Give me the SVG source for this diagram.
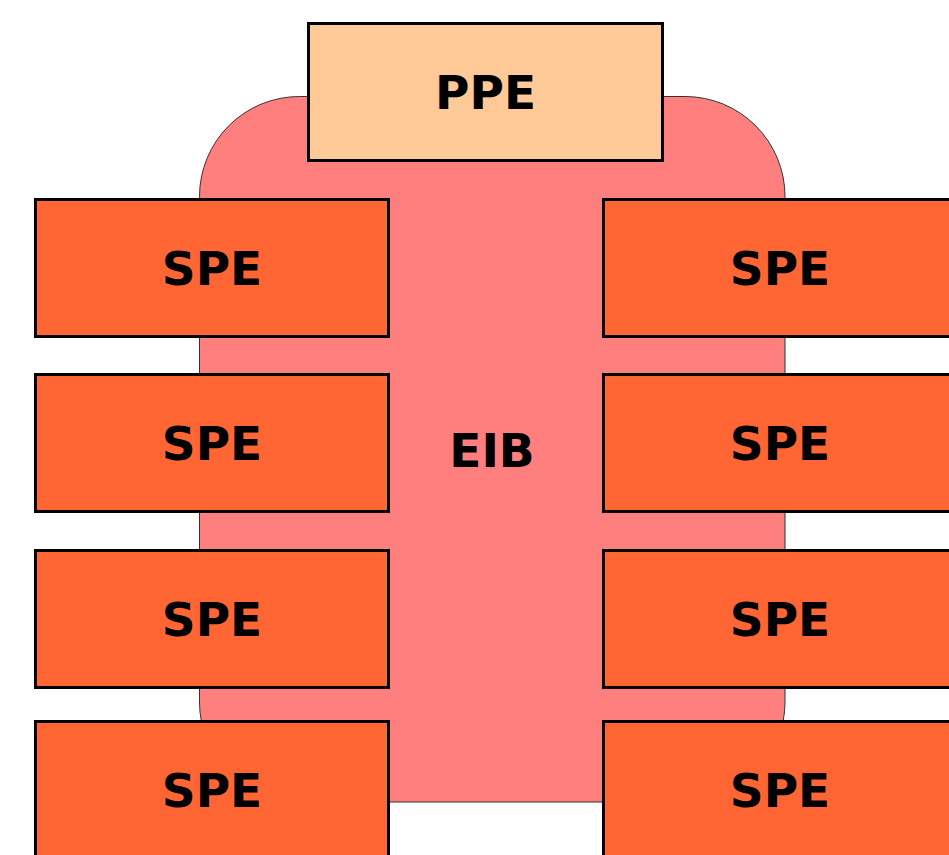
<svg xmlns="http://www.w3.org/2000/svg" width="949" height="855" viewBox="0 0 949 855">
  <style>
    .bus { fill: #ff7f7f; stroke: #333333; stroke-width: 1; }
    .ppe { fill: #ffc998; stroke: #000000; stroke-width: 3; }
    .spe { fill: #ff6633; stroke: #000000; stroke-width: 3; }
    .lbl { font-family: "DejaVu Sans", "Liberation Sans", sans-serif; font-weight: bold; font-size: 47px; fill: #000000; text-anchor: middle; }
  </style>
  <rect width="949" height="855" fill="#ffffff"/>
  <g id="eib">
    <rect class="bus" x="199.5" y="96.5" width="585.5" height="705.5" rx="100" ry="100"/>
    <text class="lbl" x="492" y="467">EIB</text>
  </g>
  <g id="connectors"></g>
  <g id="ppe">
    <rect class="ppe" x="308.5" y="23.5" width="354" height="137"/>
    <text class="lbl" x="485.5" y="109">PPE</text>
  </g>
  <g id="spe-l1">
    <rect class="spe" x="35.5" y="199.5" width="353" height="137"/>
    <text class="lbl" x="212" y="285">SPE</text>
  </g>
  <g id="spe-l2">
    <rect class="spe" x="35.5" y="374.5" width="353" height="137"/>
    <text class="lbl" x="212" y="460">SPE</text>
  </g>
  <g id="spe-l3">
    <rect class="spe" x="35.5" y="550.5" width="353" height="137"/>
    <text class="lbl" x="212" y="636">SPE</text>
  </g>
  <g id="spe-l4">
    <rect class="spe" x="35.5" y="721.5" width="353" height="137"/>
    <text class="lbl" x="212" y="807">SPE</text>
  </g>
  <g id="spe-r1">
    <rect class="spe" x="603.5" y="199.5" width="353" height="137"/>
    <text class="lbl" x="780" y="285">SPE</text>
  </g>
  <g id="spe-r2">
    <rect class="spe" x="603.5" y="374.5" width="353" height="137"/>
    <text class="lbl" x="780" y="460">SPE</text>
  </g>
  <g id="spe-r3">
    <rect class="spe" x="603.5" y="550.5" width="353" height="137"/>
    <text class="lbl" x="780" y="636">SPE</text>
  </g>
  <g id="spe-r4">
    <rect class="spe" x="603.5" y="721.5" width="353" height="137"/>
    <text class="lbl" x="780" y="807">SPE</text>
  </g>
</svg>
